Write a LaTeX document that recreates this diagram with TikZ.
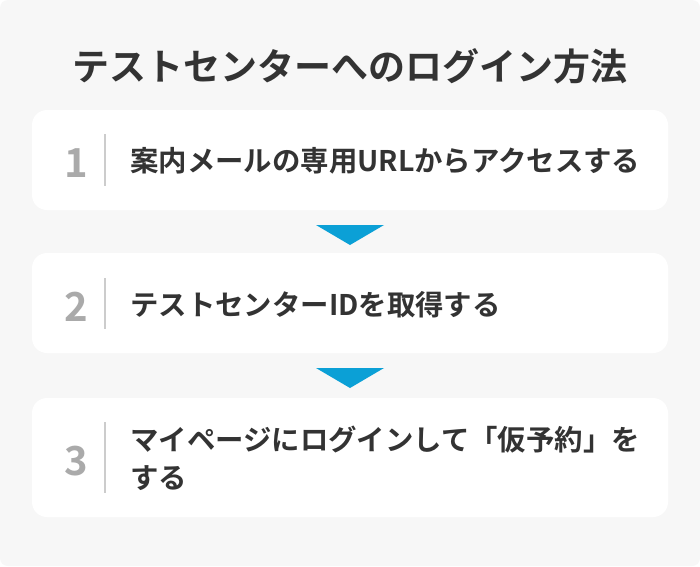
\documentclass[tikz,border=0pt]{standalone}
\usepackage{fontspec}
\setmainfont{Noto Sans CJK JP}[BoldFont={Noto Sans CJK JP Bold}]
\definecolor{pagegray}{HTML}{F7F7F7}
\definecolor{textdark}{HTML}{333333}
\definecolor{numgray}{HTML}{AAAAAA}
\definecolor{bargray}{HTML}{CCCCCC}
\definecolor{arrowblue}{HTML}{0BA0D6}
\tikzset{
  stepbox/.style={rectangle, rounded corners=15pt, fill=white, minimum width=636pt, inner sep=0pt},
  stepnum/.style={inner sep=0pt, text=numgray, font=\bfseries\fontsize{40}{40}\selectfont},
  steptext/.style={inner sep=0pt, anchor=west, align=left, text=textdark, font=\bfseries\fontsize{28.4}{38}\selectfont},
  stepbar/.style={draw=bargray, line width=2pt},
  stepdown/.style={fill=arrowblue}
}
\begin{document}
\begin{tikzpicture}[x=1pt, y=-1pt]
\useasboundingbox (0,0) rectangle (700,566);
\fill[white] (0,0) rectangle (700,566);
\fill[pagegray, rounded corners=8pt] (0,0) rectangle (700,566);
\node[inner sep=0pt, text=textdark, font=\bfseries\fontsize{37}{44}\selectfont] (title) at (350,66) {テストセンターへのログイン方法};
\node[stepbox, minimum height=100pt] (box1) at (350,160) {};
\node[stepnum] (num1) at (76,163) {1};
\draw[stepbar] (105,134) -- (105,186);
\node[steptext] (text1) at (130,161) {案内メールの専用URLからアクセスする};
\fill[stepdown] (316,225) -- (384,225) -- (350,245) -- cycle;
\node[stepbox, minimum height=100pt] (box2) at (350,303) {};
\node[stepnum] (num2) at (76,307) {2};
\draw[stepbar] (105,278) -- (105,329);
\node[steptext] (text2) at (130,305) {テストセンターIDを取得する};
\fill[stepdown] (316,368) -- (384,368) -- (350,388) -- cycle;
\node[stepbox, minimum height=119pt] (box3) at (350,457.5) {};
\node[stepnum] (num3) at (76,461) {3};
\draw[stepbar] (105,422) -- (105,493);
\node[steptext] (text3) at (130,458) {マイページにログインして「仮予約」を\\する};
\end{tikzpicture}
\end{document}
